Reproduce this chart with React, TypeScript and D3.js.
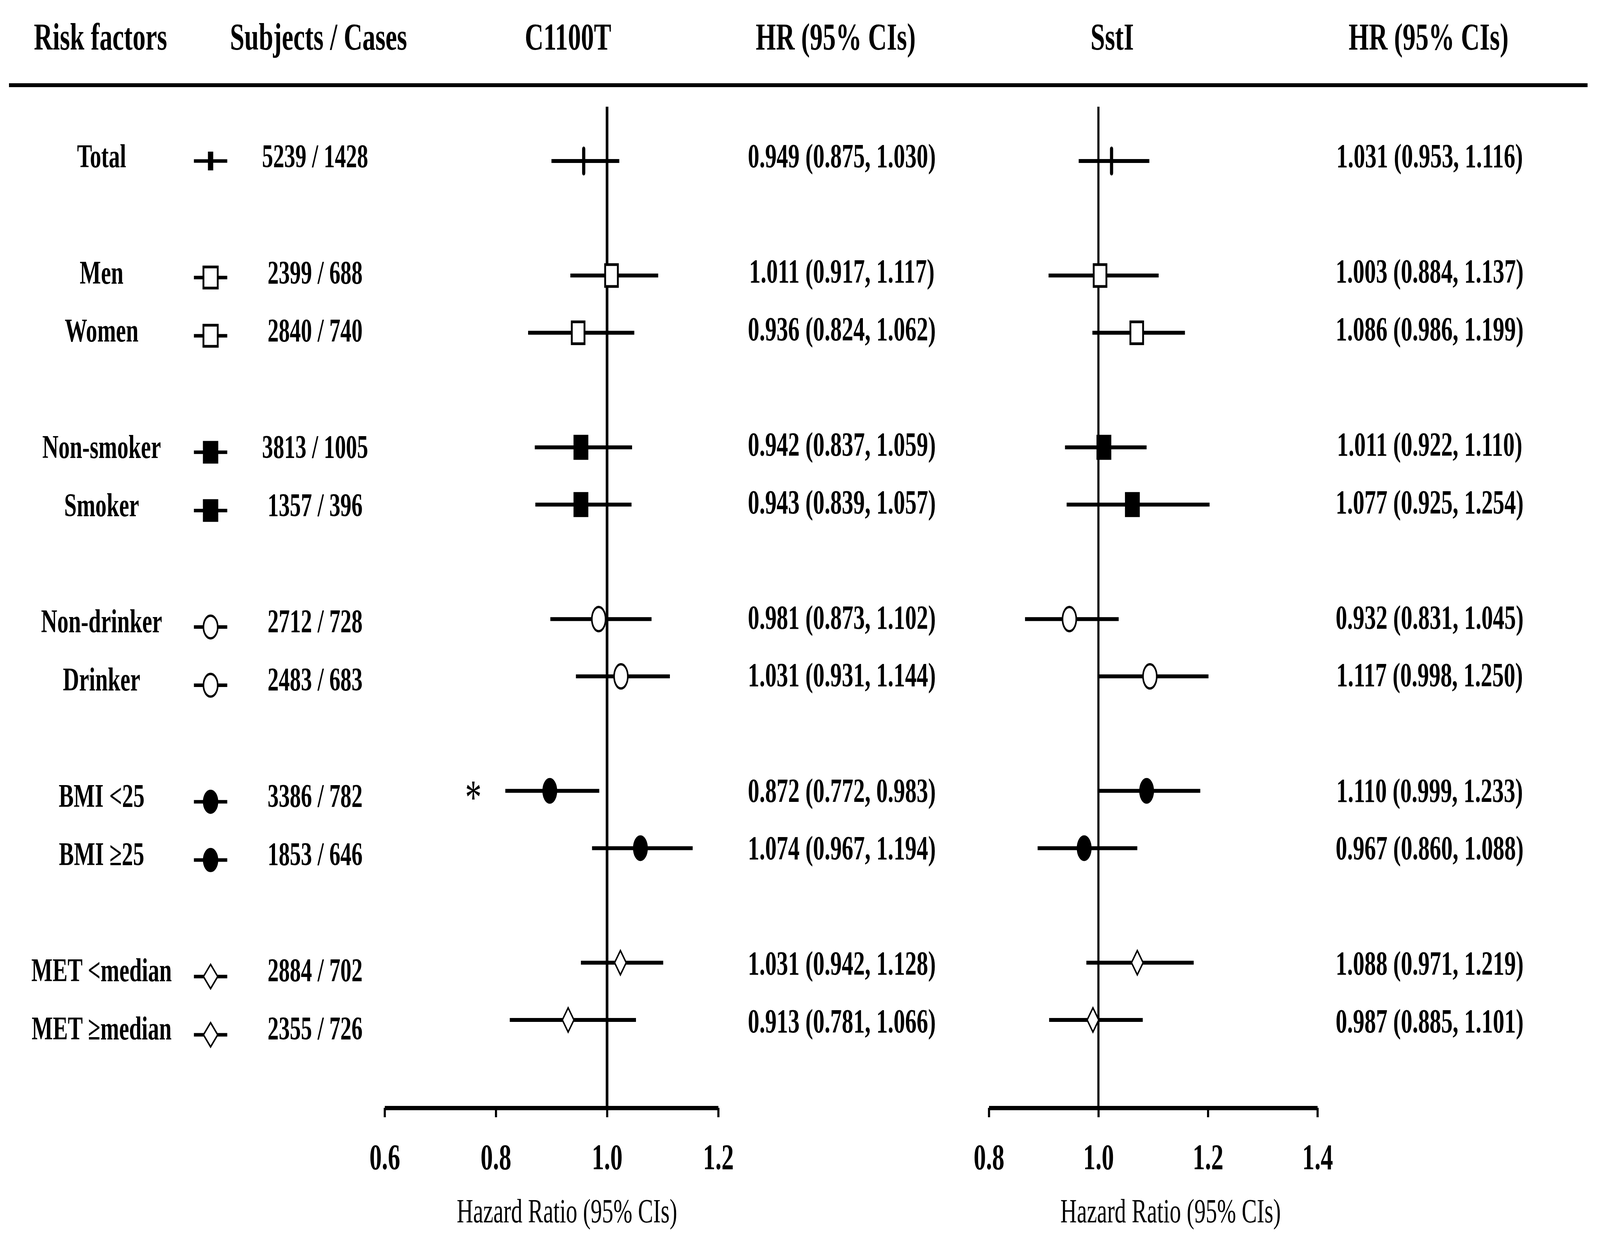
import { useRef, useEffect } from "react";
import * as d3 from "d3";

const WIDTH = 6048;
const HEIGHT = 3168;
const FONT = "'Liberation Serif', 'Times New Roman', serif";

// Rows (index = slot on the vertical grid, gaps between groups)
const categories = [
  "Total",
  "Men",
  "Women",
  "Non-smoker",
  "Smoker",
  "Non-drinker",
  "Drinker",
  "BMI <25",
  "BMI \u226525",
  "MET <median",
  "MET \u2265median",
];
const rowSlots = [0, 2, 3, 5, 6, 8, 9, 11, 12, 14, 15];
const markers = [
  "total",
  "openSquare",
  "openSquare",
  "filledSquare",
  "filledSquare",
  "openCircle",
  "openCircle",
  "filledCircle",
  "filledCircle",
  "openDiamond",
  "openDiamond",
];
const subjects = [5239, 2399, 2840, 3813, 1357, 2712, 2483, 3386, 1853, 2884, 2355];
const cases = [1428, 688, 740, 1005, 396, 728, 683, 782, 646, 702, 726];

// Printed HR (95% CI)
const c1100tHR = [0.949, 1.011, 0.936, 0.942, 0.943, 0.981, 1.031, 0.872, 1.074, 1.031, 0.913];
const c1100tLo = [0.875, 0.917, 0.824, 0.837, 0.839, 0.873, 0.931, 0.772, 0.967, 0.942, 0.781];
const c1100tHi = [1.03, 1.117, 1.062, 1.059, 1.057, 1.102, 1.144, 0.983, 1.194, 1.128, 1.066];
const sstiHR = [1.031, 1.003, 1.086, 1.011, 1.077, 0.932, 1.117, 1.11, 0.967, 1.088, 0.987];
const sstiLo = [0.953, 0.884, 0.986, 0.922, 0.925, 0.831, 0.998, 0.999, 0.86, 0.971, 0.885];
const sstiHi = [1.116, 1.137, 1.199, 1.11, 1.254, 1.045, 1.25, 1.233, 1.088, 1.219, 1.101];

// Positions of the drawn marks (they differ a little from the printed numbers)
const c1100tPlotHR = [0.958, 1.008, 0.948, 0.953, 0.953, 0.985, 1.025, 0.897, 1.06, 1.024, 0.93];
const c1100tPlotLo = [0.9, 0.934, 0.858, 0.87, 0.871, 0.898, 0.944, 0.817, 0.973, 0.953, 0.825];
const c1100tPlotHi = [1.022, 1.092, 1.049, 1.045, 1.044, 1.08, 1.113, 0.986, 1.154, 1.101, 1.052];
const sstiPlotHR = [1.024, 1.003, 1.07, 1.01, 1.062, 0.947, 1.094, 1.088, 0.974, 1.071, 0.99];
const sstiPlotLo = [0.964, 0.909, 0.989, 0.939, 0.942, 0.866, 1.001, 1.001, 0.889, 0.978, 0.91];
const sstiPlotHi = [1.093, 1.11, 1.158, 1.088, 1.203, 1.037, 1.201, 1.186, 1.071, 1.174, 1.081];

const c1100tTicks = [0.6, 0.8, 1.0, 1.2];
const sstiTicks = [0.8, 1.0, 1.2, 1.4];
const significant = ["BMI <25"];

const headers = [
  { text: "Risk factors", x: 380 },
  { text: "Subjects / Cases", x: 1204 },
  { text: "C1100T", x: 2147 },
  { text: "HR (95% CIs)", x: 3159 },
  { text: "SstI", x: 4204 },
  { text: "HR (95% CIs)", x: 5400 },
];

type Marker = string;

function drawMarker(
  g: d3.Selection<SVGGElement, unknown, null, undefined>,
  kind: Marker,
  cx: number,
  cy: number,
  legend: boolean
) {
  if (kind === "total") {
    if (legend) {
      g.append("rect").attr("x", cx - 10).attr("y", cy - 24).attr("width", 20).attr("height", 48).attr("fill", "#000");
    } else {
      g.append("line")
        .attr("x1", cx).attr("x2", cx)
        .attr("y1", cy - 31).attr("y2", cy + 31)
        .attr("stroke", "#000").attr("stroke-width", 12).attr("stroke-linecap", "round");
    }
  } else if (kind === "openSquare" || kind === "filledSquare") {
    const filled = kind === "filledSquare";
    const w = legend ? 54 : filled ? 52 : 48;
    const h = legend ? 54 : filled ? 60 : 56;
    g.append("rect")
      .attr("x", cx - w / 2).attr("y", cy - h / 2)
      .attr("width", w).attr("height", h)
      .attr("fill", filled ? "#000" : "#fff")
      .attr("stroke", "#000").attr("stroke-width", filled ? 4 : 7);
  } else if (kind === "openCircle" || kind === "filledCircle") {
    const filled = kind === "filledCircle";
    g.append("ellipse")
      .attr("cx", cx).attr("cy", cy)
      .attr("rx", legend ? 27 : 26).attr("ry", legend ? 29 : 31)
      .attr("fill", filled ? "#000" : "#fff")
      .attr("stroke", "#000").attr("stroke-width", filled ? 4 : 6);
  } else {
    const hw = legend ? 27 : 22;
    const hh = legend ? 31 : 31;
    g.append("path")
      .attr("d", `M${cx},${cy - hh}L${cx + hw},${cy}L${cx},${cy + hh}L${cx - hw},${cy}Z`)
      .attr("fill", "#fff")
      .attr("stroke", "#000").attr("stroke-width", 5).attr("stroke-linejoin", "miter");
  }
}

export default function App() {
  const svgRef = useRef<SVGSVGElement>(null);

  useEffect(() => {
    if (!svgRef.current) return;
    const svg = d3.select(svgRef.current);
    svg.selectAll("*").remove();

    const root = svg.append("g").attr("font-family", FONT);

    // Vertical positions
    const yMark = d3.scaleLinear().domain([0, 15]).range([412, 2610]);
    const yLegend = d3.scaleLinear().domain([0, 15]).range([412, 2648]);
    const yLabel = d3.scaleLinear().domain([0, 15]).range([428, 2660]);
    const yHR = d3.scaleLinear().domain([0, 15]).range([428, 2642]);
    const axisY = 2835;
    const refTop = 273;

    // Header
    root.append("g")
      .selectAll("text")
      .data(headers)
      .enter()
      .append("text")
      .attr("x", (d) => d.x)
      .attr("y", 127)
      .attr("text-anchor", "middle")
      .attr("font-size", 98)
      .attr("font-weight", "bold")
      .text((d) => d.text);

    root.append("line")
      .attr("x1", 34).attr("x2", 6001)
      .attr("y1", 218).attr("y2", 218)
      .attr("stroke", "#000").attr("stroke-width", 10);

    // Risk factor labels, legend markers, counts
    categories.forEach((cat, i) => {
      const slot = rowSlots[i];
      root.append("text")
        .attr("x", 384)
        .attr("y", yLabel(slot))
        .attr("text-anchor", "middle")
        .attr("font-size", 85)
        .attr("font-weight", "bold")
        .text(cat);

      const lg = root.append("g");
      const ly = yLegend(slot);
      lg.append("line")
        .attr("x1", 733).attr("x2", 859)
        .attr("y1", ly).attr("y2", ly)
        .attr("stroke", "#000").attr("stroke-width", 9);
      drawMarker(lg, markers[i], 796, ly, true);

      root.append("text")
        .attr("x", 1191)
        .attr("y", yLabel(slot))
        .attr("text-anchor", "middle")
        .attr("font-size", 84)
        .attr("font-weight", "bold")
        .text(`${subjects[i]} / ${cases[i]}`);
    });

    const panels = [
      {
        domain: [0.6, 1.2],
        range: [1454, 2715],
        ticks: c1100tTicks,
        hr: c1100tPlotHR,
        lo: c1100tPlotLo,
        hi: c1100tPlotHi,
        text: { hr: c1100tHR, lo: c1100tLo, hi: c1100tHi },
        textX: 3182,
        refWidth: 10,
        titleX: 2143,
      },
      {
        domain: [0.8, 1.4],
        range: [3738, 4980],
        ticks: sstiTicks,
        hr: sstiPlotHR,
        lo: sstiPlotLo,
        hi: sstiPlotHi,
        text: { hr: sstiHR, lo: sstiLo, hi: sstiHi },
        textX: 5404,
        refWidth: 8,
        titleX: 4425,
      },
    ];

    const fmt = d3.format(".3f");

    panels.forEach((p, pi) => {
      const x = d3.scaleLinear().domain(p.domain).range(p.range);
      const g = root.append("g");

      // Reference line at HR = 1
      g.append("line")
        .attr("x1", x(1)).attr("x2", x(1))
        .attr("y1", refTop).attr("y2", axisY)
        .attr("stroke", "#000").attr("stroke-width", p.refWidth);

      // CIs and markers
      categories.forEach((cat, i) => {
        const cy = yMark(rowSlots[i]);
        g.append("line")
          .attr("x1", x(p.lo[i])).attr("x2", x(p.hi[i]))
          .attr("y1", cy).attr("y2", cy)
          .attr("stroke", "#000").attr("stroke-width", 10);
        drawMarker(g, markers[i], x(p.hr[i]), cy, false);

        if (pi === 0 && significant.includes(cat)) {
          g.append("text")
            .attr("x", 1789)
            .attr("y", cy + 58)
            .attr("text-anchor", "middle")
            .attr("font-size", 125)
            .text("*");
        }

        root.append("text")
          .attr("x", p.textX)
          .attr("y", yHR(rowSlots[i]))
          .attr("text-anchor", "middle")
          .attr("font-size", 87)
          .attr("font-weight", "bold")
          .text(`${fmt(p.text.hr[i])} (${fmt(p.text.lo[i])}, ${fmt(p.text.hi[i])})`);
      });

      // Axis
      const axis = g.append("g")
        .attr("transform", `translate(0,${axisY})`)
        .call(
          d3.axisBottom(x)
            .tickValues(p.ticks)
            .tickFormat((d) => d3.format(".1f")(d as number))
            .tickSize(24)
            .tickSizeOuter(0)
        );
      axis.select(".domain").attr("stroke", "#000").attr("stroke-width", 11);
      axis.selectAll(".tick line").attr("stroke", "#000").attr("stroke-width", 8);
      axis.selectAll(".tick text")
        .attr("y", 157)
        .attr("dy", 0)
        .attr("fill", "#000")
        .attr("font-size", 93)
        .attr("font-weight", "bold")
        .attr("font-family", FONT);

      g.append("text")
        .attr("x", p.titleX)
        .attr("y", 3128)
        .attr("text-anchor", "middle")
        .attr("font-size", 86)
        .text("Hazard Ratio (95% CIs)");
    });
  }, []);

  // The viewBox is stretched over the whole window so the frame matches the reference
  return (
    <svg
      ref={svgRef}
      viewBox={`0 0 ${WIDTH} ${HEIGHT}`}
      preserveAspectRatio="none"
      style={{
        position: "absolute",
        left: 0,
        top: 0,
        width: "100vw",
        height: "100vh",
        display: "block",
        background: "#fff",
      }}
    />
  );
}
